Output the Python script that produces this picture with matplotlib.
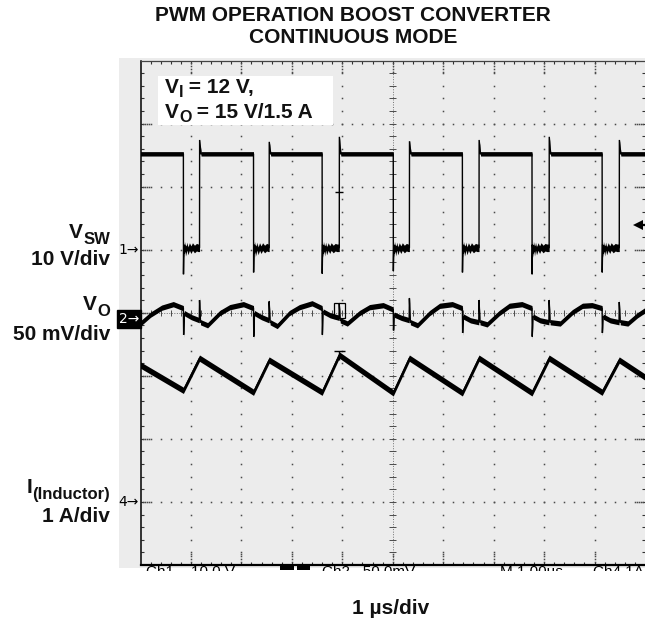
import numpy as np
import matplotlib
matplotlib.use("Agg")
import matplotlib.pyplot as plt
from matplotlib.patches import Rectangle
from matplotlib.transforms import Bbox, TransformedBbox, blended_transform_factory

# ---------------- data ----------------
# time axis: 1 us/div, 10 divisions; vertical: 8 divisions
CH1_OFFSET_DIV, CH1_V_PER_DIV = 5.0, 10.0      # V_SW, 10 V/div
CH2_OFFSET_DIV, CH2_MV_PER_DIV = 3.9, 50.0     # V_O ripple, 50 mV/div
CH4_OFFSET_DIV, CH4_A_PER_DIV = 1.0, 1.0       # inductor current, 1 A/div

VSW_FALL_T = [0.85, 2.24, 3.60, 5.01, 6.38, 7.76, 9.15]
VSW_RISE_T = [1.17, 2.55, 3.94, 5.33, 6.71, 8.10, 9.49]
VSW_HIGH_V = 15.2
VSW_UNDERSHOOT_V = [-3.9, -3.6, -3.8, -3.4, -3.6, -3.9, -3.6]
VSW_OVERSHOOT_V = [17.4, 17.1, 17.9, 17.2, 17.4, 17.9, 17.4]
VSW_RING_DT = [0.01, 0.02, 0.035, 0.05, 0.07, 0.09, 0.12, 0.15, 0.18, 0.22, 0.26, 0.29]
VSW_RING_V = [0.8, -0.6, 0.7, -0.4, 0.6, -0.2, 0.5, 0.0, 0.5, 0.1, 0.4, 0.3]

VO_T = [0.00, 0.20, 0.42, 0.65, 0.85, 0.855, 0.87, 1.01, 1.165, 1.17, 1.19, 1.33, 1.57, 1.77,
        2.04, 2.24, 2.245, 2.26, 2.40, 2.545, 2.55, 2.57, 2.71, 2.95, 3.15,
        3.40, 3.60, 3.605, 3.62, 3.76, 3.935, 3.94, 3.96, 4.10, 4.34, 4.54,
        4.81, 5.01, 5.015, 5.03, 5.17, 5.325, 5.33, 5.35, 5.49, 5.73, 5.93,
        6.18, 6.38, 6.385, 6.40, 6.54, 6.705, 6.71, 6.73, 6.87, 7.11, 7.31,
        7.56, 7.76, 7.765, 7.78, 7.92, 8.095, 8.10, 8.12, 8.32, 8.56, 8.76,
        8.95, 9.15, 9.155, 9.17, 9.31, 9.485, 9.49, 9.51, 9.66, 9.85, 10.00]
VO_MV = [-3.5, 3.5, 9.0, 11.8, 8.6, -12.5, 4.7, 1.5, -0.9, 15.0, -2.5, -4.9, 4.7, 9.4,
         11.8, 8.6, -14.0, 4.7, 1.5, -0.9, 14.0, -2.5, -5.5, 4.7, 9.4,
         12.5, 8.6, -12.5, 6.0, 3.0, 1.0, 12.0, -1.0, -3.5, 4.7, 9.4,
         11.0, 7.5, -9.0, 3.5, 1.0, -0.9, 16.5, -2.5, -4.9, 4.7, 10.5,
         11.8, 8.6, -11.0, 2.0, -1.0, -2.5, 15.0, -2.5, -4.2, 4.7, 10.5,
         11.8, 8.6, -14.0, 2.0, -1.0, -2.5, 15.0, -2.5, -3.5, 5.4, 10.5,
         11.0, 8.6, -11.0, 2.0, -1.0, -2.5, 13.5, -2.5, -3.5, 3.0, 7.0]

IL_T = [0.00, 0.85, 1.17, 2.24, 2.55, 3.60, 3.94, 5.01, 5.33, 6.38, 6.71, 7.76, 8.10, 9.15, 9.49, 10.00]
IL_A = [2.17, 1.77, 2.28, 1.74, 2.25, 1.74, 2.33, 1.73, 2.28, 1.73, 2.28, 1.73, 2.28, 1.74, 2.25, 1.98]

TITLE = ["PWM OPERATION BOOST CONVERTER", "CONTINUOUS MODE"]
XLABEL = "1 \u00b5s/div"

# ---------------- figure ----------------
W, H = 645, 627
FONT = ["Liberation Sans", "DejaVu Sans"]
plt.rcParams["font.family"] = FONT
fig = plt.figure(figsize=(W / 100, H / 100), dpi=100)
fig.patch.set_facecolor("white")


def fx(x):
    return x / W


def fy(y):
    return 1 - y / H


# grey screen background
fig.add_artist(Rectangle((fx(119), fy(568)), fx(W - 119), (568 - 58) / H,
                         transform=fig.transFigure, facecolor="#ececec",
                         edgecolor="none", zorder=-10))

AX_L, AX_T, AX_B = 140.5, 60.5, 565.0
ax = fig.add_axes([fx(AX_L), fy(AX_B), 1 - fx(AX_L), (AX_B - AX_T) / H])
ax.set_xlim(0, 10)
ax.set_ylim(0, 8)
ax.patch.set_visible(False)
ax.set_xticks([])
ax.set_yticks([])
ax.spines["right"].set_visible(False)
ax.spines["left"].set_color("black")
ax.spines["left"].set_linewidth(1.1)
ax.spines["bottom"].set_color("black")
ax.spines["bottom"].set_linewidth(1.6)
ax.spines["top"].set_color("#444444")
ax.spines["top"].set_linewidth(0.9)

# ---------------- graticule ----------------
GC = "#4a4a4a"
dot = dict(marker="s", ms=1.1, mew=0, color=GC, ls="none", zorder=2)
yminor = np.arange(1, 40) * 0.2
xminor = np.arange(1, 50) * 0.2
for vx in [1, 2, 3, 4, 6, 7, 8, 9]:
    ax.plot(np.full_like(yminor, vx), yminor, **dot)
for hy in [1, 2, 3, 5, 6, 7]:
    ax.plot(xminor, np.full_like(xminor, hy), **dot)
# centre lines
ax.plot([5, 5], [0, 8], color="#707070", lw=0.7, ls=(0, (1, 1.6)), zorder=2)
ax.plot([0, 10], [4, 4], color="#707070", lw=0.7, ls=(0, (1, 1.6)), zorder=2)
ax.hlines(yminor, 5 - 0.065, 5 + 0.065, color=GC, lw=0.7, zorder=2)
ax.vlines(xminor, 4 - 0.05, 4 + 0.05, color=GC, lw=0.7, zorder=2)
# border minor ticks
ax.vlines(xminor, 8 - 0.05, 8, color="#333333", lw=0.8, zorder=2)
ax.vlines(xminor, 0, 0.05, color="#333333", lw=0.8, zorder=2)
ax.hlines(yminor, 0, 0.06, color="#333333", lw=0.8, zorder=2)
ax.hlines(yminor, 10 - 0.06, 10, color="#333333", lw=0.8, zorder=2)
# border major ticks (dotted stubs)
stub = np.arange(1, 5) * 0.045
for vx in range(1, 10):
    ax.plot(np.full_like(stub, vx), 8 - stub, **dot)
    ax.plot(np.full_like(stub, vx), stub, **dot)
stubx = np.arange(1, 5) * 0.04
for hy in range(1, 8):
    ax.plot(stubx, np.full_like(stubx, hy), **dot)
    ax.plot(10 - stubx, np.full_like(stubx, hy), **dot)


# ---------------- traces ----------------
def trace(t, ydiv, band):
    t = np.asarray(t, float)
    ydiv = np.asarray(ydiv, float)
    band = np.broadcast_to(np.asarray(band, float), ydiv.shape)
    ax.fill_between(t, ydiv - band, ydiv + band, color="black", lw=0, zorder=5)
    ax.plot(t, ydiv, color="black", lw=1.0, zorder=6, solid_joinstyle="miter")


# V_SW assembled from the read edge times / levels
HB, LB = 0.035, 0.06          # noise half-band (div) on high / low level
vt, vv, vb = [0.0], [VSW_HIGH_V], [HB]
for i, (tf, tr) in enumerate(zip(VSW_FALL_T, VSW_RISE_T)):
    vt += [tf, tf + 0.002]
    vv += [VSW_HIGH_V, VSW_UNDERSHOOT_V[i]]
    vb += [HB, 0.01]
    for dt, rv in zip(VSW_RING_DT, VSW_RING_V):
        vt.append(tf + dt)
        vv.append(rv)
        vb.append(LB)
    vt += [tr, tr + 0.002, tr + 0.03]
    vv += [VSW_RING_V[-1], VSW_OVERSHOOT_V[i], VSW_HIGH_V]
    vb += [LB, 0.01, HB]
vt.append(10.0)
vv.append(VSW_HIGH_V)
vb.append(HB)
trace(vt, CH1_OFFSET_DIV + np.array(vv) / CH1_V_PER_DIV, vb)

trace(VO_T, CH2_OFFSET_DIV + np.array(VO_MV) / CH2_MV_PER_DIV, 0.042)
trace(IL_T, CH4_OFFSET_DIV + np.array(IL_A) / CH4_A_PER_DIV, 0.05)

# cursors / trigger marks
CUR_T = 3.94
ax.hlines(5.91, CUR_T - 0.08, CUR_T + 0.08, color="black", lw=1.0, zorder=7)
ax.hlines(3.39, CUR_T - 0.11, CUR_T + 0.11, color="black", lw=1.0, zorder=7)
ax.vlines(CUR_T, 3.25, 3.39, color="black", lw=1.0, zorder=7)
ax.add_patch(Rectangle((CUR_T - 0.11, 3.92), 0.23, 0.235, fill=False,
                       ec="black", lw=0.9, zorder=7))
ax.plot([9.86], [5.39], marker="<", ms=7, color="black", mew=0, zorder=7, clip_on=False)
ax.hlines(5.39, 9.86, 10.0, color="black", lw=1.6, zorder=7)

# white info box
ax.add_patch(Rectangle((0.356, 6.97), 3.464, 0.78, facecolor="white",
                       edgecolor="none", zorder=3))

# channel ground markers
bt = blended_transform_factory(fig.transFigure, ax.transData)
ax.text(fx(139), CH1_OFFSET_DIV, "1\u2192", transform=bt, ha="right", va="center",
        fontsize=10, family=["DejaVu Sans"], clip_on=False)
ax.text(fx(139), CH2_OFFSET_DIV, "2\u2192", transform=bt, ha="right", va="center",
        fontsize=10, family=["DejaVu Sans"], color="white", clip_on=False,
        bbox=dict(boxstyle="square,pad=0.15", fc="black", ec="black"))
ax.text(fx(139), CH4_OFFSET_DIV, "4\u2192", transform=bt, ha="right", va="center",
        fontsize=10, family=["DejaVu Sans"], clip_on=False)

# ---------------- texts ----------------
renderer = fig.canvas.get_renderer()


def compose(pieces, x, base, ha="left"):
    widths = []
    for txt, size, drop in pieces:
        t = fig.text(0, 0, txt, fontsize=size, fontweight="bold")
        widths.append(t.get_window_extent(renderer=renderer).width)
        t.remove()
    total = sum(widths)
    if ha == "right":
        x = x - total
    elif ha == "center":
        x = x - total / 2
    for (txt, size, drop), w in zip(pieces, widths):
        fig.text(fx(x), fy(base + drop), txt, fontsize=size, fontweight="bold",
                 ha="left", va="baseline", color="#111111")
        x += w


fig.text(fx(353), fy(21), TITLE[0], ha="center", va="baseline", fontsize=15,
         fontweight="bold", color="#111111")
fig.text(fx(353), fy(43), TITLE[1], ha="center", va="baseline", fontsize=15,
         fontweight="bold", color="#111111")

compose([("V", 15, 0), ("I", 11.5, 4), (" = 12 V,", 15, 0)], 165, 93)
compose([("V", 15, 0), ("O", 11.5, 4), (" = 15 V/1.5 A", 15, 0)], 165, 118)

compose([("V", 15, 0), ("SW", 12, 6)], 110, 238, ha="right")
compose([("10 V/div", 15, 0)], 110, 265, ha="right")
compose([("V", 15, 0), ("O", 12, 6)], 110, 310, ha="right")
compose([("50 mV/div", 15, 0)], 110, 340, ha="right")
compose([("I", 15, 0), ("(Inductor)", 12, 6)], 110, 493, ha="right")
compose([("1 A/div", 15, 0)], 110, 522, ha="right")

fig.text(fx(391), fy(614), XLABEL, ha="center", va="baseline", fontsize=15,
         fontweight="bold", color="#111111")

# cut-off scope status line under the graticule
clip = TransformedBbox(Bbox.from_extents(0, fy(571), 1, fy(565.8)), fig.transFigure)
for x0, s in [(146, "Ch1    10.0 V"), (322, "Ch2   50.0mV"), (500, "M 1.00\u00b5s"), (593, "Ch4 1A")]:
    t = fig.text(fx(x0), fy(565), s, va="top", ha="left", fontsize=11, color="black")
    t.set_clip_box(clip)
for x0, x1 in [(280, 294), (297, 310)]:
    fig.add_artist(Rectangle((fx(x0), fy(570)), fx(x1 - x0), 4 / H,
                             transform=fig.transFigure, facecolor="black",
                             edgecolor="none", zorder=5))

fig.savefig("out.png", dpi=100)
